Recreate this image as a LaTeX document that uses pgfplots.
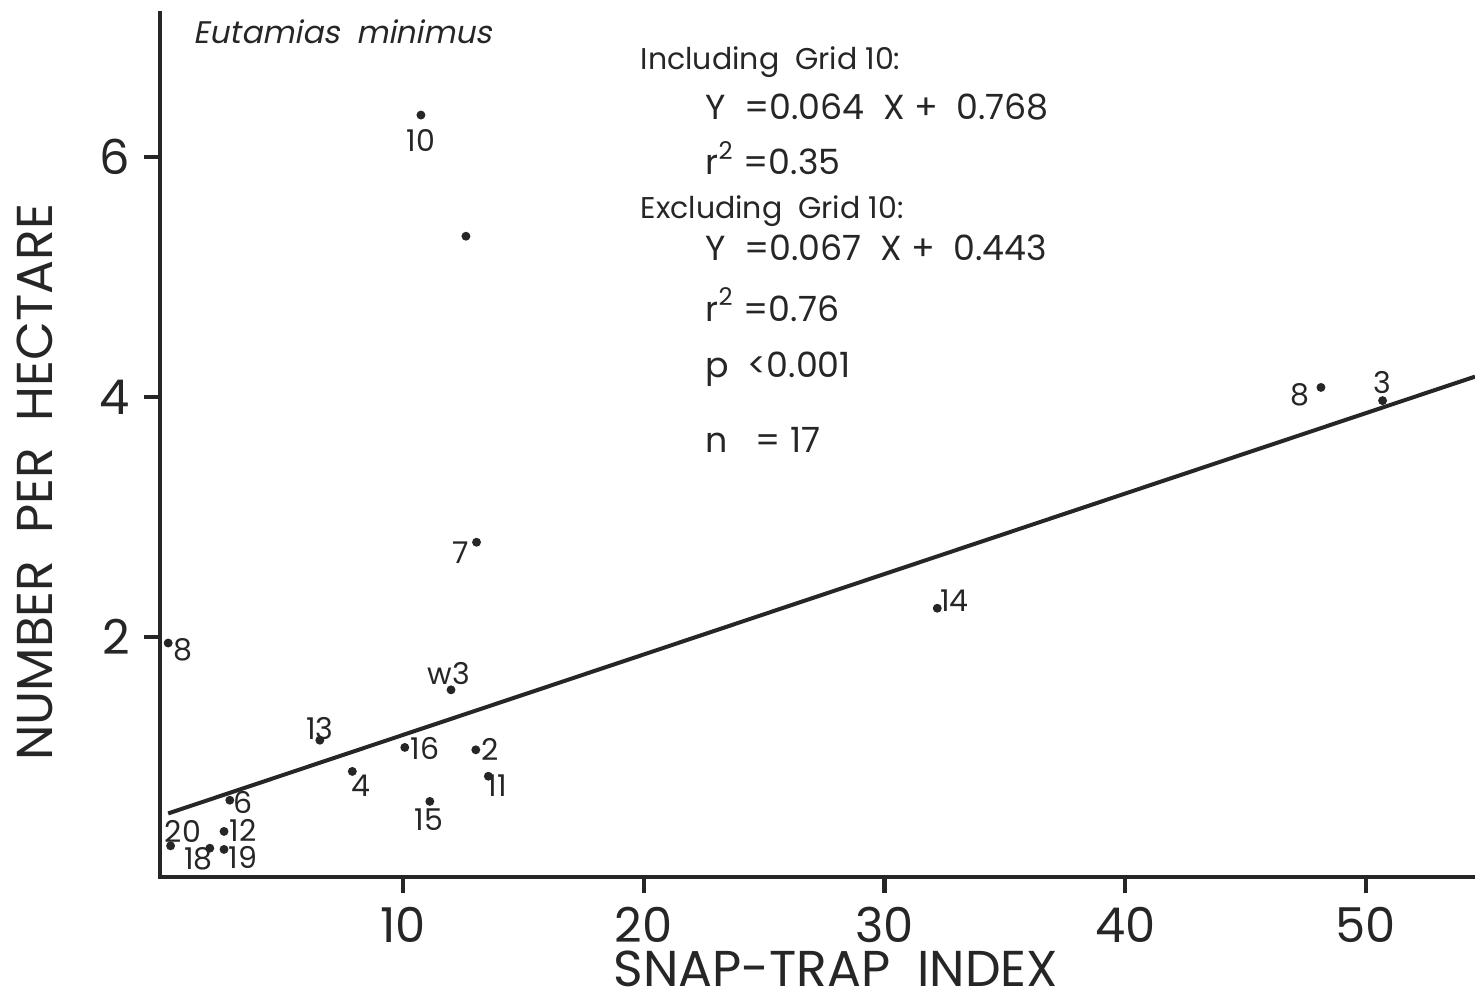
\documentclass[border=0pt]{standalone}
\usepackage{fontspec}
\setmainfont{Poppins}
\newfontfamily\slfont{Poppins}[FakeSlant=0.2]
\usepackage{pgfplots}
\pgfplotsset{compat=1.18}
\definecolor{ink}{gray}{0.15}
\begin{document}
\begin{tikzpicture}
\begin{axis}[
  at={(0,0)}, anchor=south west,
  scale only axis,
  width=328.75pt, height=216pt,
  xmin=-0.1, xmax=54.53, ymin=0, ymax=7.2,
  axis line style={draw=none},
  xtick={10,20,30,40,50},
  ytick={2,4,6},
  xtick pos=bottom, ytick pos=left,
  tick align=outside,
  major tick length=4pt,
  xtick style={draw=ink, line width=1.1pt},
  ytick style={draw=ink, line width=1.1pt},
  /pgf/number format/assume math mode=true,
  ticklabel style={font=\fontsize{12}{14}\selectfont, text=ink},
  xlabel={SNAP-TRAP\ \ INDEX},
  ylabel={NUMBER\ \ PER\ \ HECTARE},
  label style={font=\fontsize{12.6}{14}\selectfont, text=ink, inner sep=0pt},
  xlabel style={at={(rel axis cs:0.514,-0.106)}, anchor=center},
  ylabel style={at={(rel axis cs:-0.095,0.457)}, anchor=center},
  clip=false,
]
% axis lines
\draw[ink, line width=0.8pt, line cap=rect] (rel axis cs:0,1) -- (rel axis cs:0,0) -- (rel axis cs:1,0);
% data points
\addplot[only marks, mark=*, mark size=0.9pt, ink] coordinates {
  (0.24,1.95) (11.99,1.56) (6.54,1.14) (10.07,1.08) (13.02,1.06)
  (13.54,0.84) (7.89,0.88) (11.11,0.63) (2.80,0.64) (2.56,0.38)
  (0.34,0.26) (1.97,0.24) (2.56,0.23) (10.74,6.35) (12.61,5.34)
  (13.05,2.79) (48.13,4.08) (50.69,3.97) (32.19,2.24)
};
% regression line
\addplot[no marks, line width=1pt, ink] coordinates {(0.24,0.53) (54.53,4.17)};
% point labels
\begin{scope}[every node/.style={font=\fontsize{7.5}{9}\selectfont, text=ink, inner sep=0pt}]
\node at (axis cs:10.74,6.14) {10};
\node at (axis cs:0.85,1.89) {8};
\node at (axis cs:11.9,1.70) {w3};
\node at (axis cs:6.54,1.24) {13};
\node at (axis cs:10.9,1.075) {16};
\node at (axis cs:13.6,1.06) {2};
\node at (axis cs:13.9,0.76) {11};
\node at (axis cs:8.25,0.76) {4};
\node at (axis cs:11.07,0.475) {15};
\node at (axis cs:3.35,0.62) {6};
\node at (axis cs:3.35,0.39) {12};
\node at (axis cs:0.85,0.38) {20};
\node at (axis cs:1.5,0.15) {18};
\node at (axis cs:3.35,0.16) {19};
\node at (axis cs:12.4,2.70) {7};
\node at (axis cs:32.9,2.30) {14};
\node at (axis cs:47.26,4.02) {8};
\node at (axis cs:50.7,4.12) {3};
\end{scope}
% annotations
\node[anchor=west, inner sep=0pt, text=ink, font=\fontsize{7.8}{10}\slfont] at (axis cs:1.27,7.04) {Eutamias\ \ minimus};
\begin{scope}[every node/.style={anchor=west, inner sep=0pt, text=ink}]
\node[font=\fontsize{7.5}{9}\selectfont] at (axis cs:19.84,6.79) {Including\ \ Grid 10:};
\node[font=\fontsize{8.7}{11}\selectfont] at (axis cs:22.53,6.42) {Y\ \ =0.064\ \ X +\ \ 0.768};
\node[font=\fontsize{8.7}{11}\selectfont] at (axis cs:22.53,5.99) {r\textsuperscript{2} =0.35};
\node[font=\fontsize{7.5}{9}\selectfont] at (axis cs:19.84,5.55) {Excluding\ \ Grid 10:};
\node[font=\fontsize{8.7}{11}\selectfont] at (axis cs:22.53,5.24) {Y\ \ =0.067\ \ X +\ \ 0.443};
\node[font=\fontsize{8.7}{11}\selectfont] at (axis cs:22.53,4.77) {r\textsuperscript{2} =0.76};
\node[font=\fontsize{8.7}{11}\selectfont] at (axis cs:22.53,4.23) {p\ \ <0.001};
\node[font=\fontsize{8.7}{11}\selectfont] at (axis cs:22.53,3.64) {n\ \ \ = 17};
\end{scope}
\end{axis}
\pgfresetboundingbox
\path[use as bounding box] (-40pt,-30.5pt) rectangle (328.75pt,219.25pt);
\end{tikzpicture}
\end{document}
